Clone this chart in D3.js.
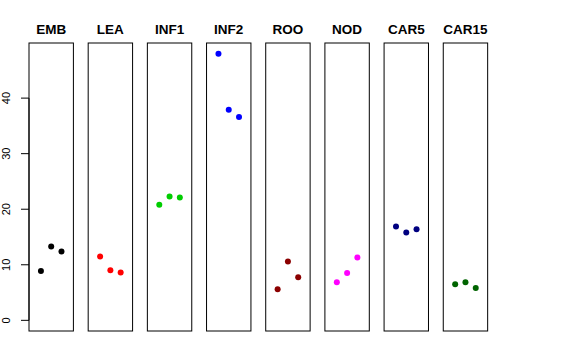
<!DOCTYPE html>
<html><head><meta charset="utf-8">
<script src="https://cdn.jsdelivr.net/npm/d3@7"></script>
<style>body{margin:0;background:#fff}svg{display:block}</style>
</head><body>
<script>
const categories = ["EMB","LEA","INF1","INF2","ROO","NOD","CAR5","CAR15"];
const colors = ["#000000","#FF0000","#00CD00","#0000FF","#8B0000","#FF00FF","#000080","#006400"];
const values = [
  [8.9, 13.3, 12.4],
  [11.5, 9.0, 8.6],
  [20.8, 22.3, 22.1],
  [48.0, 37.9, 36.6],
  [5.6, 10.6, 7.75],
  [6.85, 8.5, 11.3],
  [16.9, 15.8, 16.4],
  [6.5, 6.85, 5.8]
];
const yTicks = [0,10,20,30,40];

const W=576,H=360;
const svg=d3.select("body").append("svg").attr("width",W).attr("height",H);
const font="Liberation Sans, Arial, Helvetica, sans-serif";

const panelLeft = d3.scaleLinear().domain([0,7]).range([29, 29+7*59.18]);
const pw = 44.4;
const yMin=0,yMax=48, ypad=(yMax-yMin)*0.04;
const y = d3.scaleLinear().domain([yMin-ypad,yMax+ypad]).range([331,43]);
const x = d3.scaleLinear().domain([0-0.16,4+0.16]).range([0,pw]);

categories.forEach((c,i)=>{
  const g=svg.append("g").attr("transform",`translate(${panelLeft(i)},0)`);
  g.selectAll("circle").data(values[i]).enter().append("circle")
    .attr("cx",(d,j)=>x(j+1)).attr("cy",d=>y(d)).attr("r",3).attr("fill",colors[i]);
  g.append("rect").attr("x",0).attr("y",y.range()[1]).attr("width",pw)
    .attr("height",y.range()[0]-y.range()[1]).attr("fill","none").attr("stroke","#000").attr("stroke-width",1);
  g.append("text").attr("x",pw/2).attr("y",34).attr("text-anchor","middle")
    .attr("font-family",font).attr("font-weight","bold").attr("font-size",13.5).text(c);
});

// y axis
const ax = svg.append("g").attr("transform",`translate(${panelLeft(0)},0)`);
ax.append("line").attr("x1",0).attr("x2",0).attr("y1",y(0)).attr("y2",y(40)).attr("stroke","#000");
ax.selectAll("line.t").data(yTicks).enter().append("line").attr("class","t")
  .attr("x1",-8).attr("x2",0).attr("y1",d=>y(d)).attr("y2",d=>y(d)).attr("stroke","#000");
ax.selectAll("text").data(yTicks).enter().append("text")
  .attr("transform",d=>`translate(-18.7,${y(d)}) rotate(-90)`)
  .attr("text-anchor","middle").attr("font-family",font).attr("font-size",11)
  .text(d=>d);
</script>
</body></html>
